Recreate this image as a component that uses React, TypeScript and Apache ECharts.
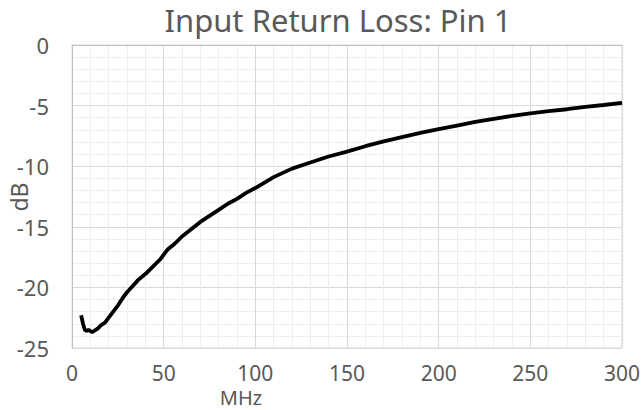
import React, { useEffect, useRef } from "react";
import * as echarts from "echarts";

const freqMHz = [5, 6, 7, 8, 9, 10, 11, 12, 14, 16, 18, 20, 22, 25, 28, 30, 33, 36, 40, 44, 48, 52, 56, 60, 65, 70, 75, 80, 85, 90, 95, 100, 110, 120, 130, 140, 150, 160, 170, 180, 190, 200, 210, 220, 230, 240, 250, 260, 270, 280, 290, 300];
const lossDb = [-22.3, -23.0, -23.5, -23.6, -23.5, -23.6, -23.7, -23.6, -23.4, -23.1, -22.9, -22.5, -22.1, -21.5, -20.8, -20.4, -19.9, -19.4, -18.9, -18.3, -17.7, -16.9, -16.4, -15.8, -15.2, -14.6, -14.1, -13.6, -13.1, -12.7, -12.2, -11.8, -10.9, -10.2, -9.7, -9.2, -8.8, -8.35, -7.95, -7.6, -7.25, -6.95, -6.65, -6.35, -6.1, -5.85, -5.65, -5.45, -5.3, -5.1, -4.95, -4.78];

const titleText = "Input Return Loss: Pin 1";
const xName = "MHz";
const yName = "dB";

const FONT = "'Noto Sans', sans-serif";
const TXT = "#595959";

export default function App() {
  const ref = useRef<HTMLDivElement>(null);
  useEffect(() => {
    if (!ref.current) return;
    const chart = echarts.init(ref.current, null, { renderer: "svg" });
    chart.setOption({
      animation: false,
      backgroundColor: "#ffffff",
      textStyle: { fontFamily: FONT },
      title: {
        text: titleText,
        left: 338,
        textAlign: "center",
        top: 0,
        padding: 0,
        textStyle: { fontFamily: FONT, fontSize: 31, fontWeight: "normal", color: TXT, lineHeight: 40 },
      },
      grid: { left: 72, right: 20, top: 45, bottom: 62, show: true, borderColor: "#d9d9d9", borderWidth: 1 },
      xAxis: {
        type: "value",
        min: 0,
        max: 300,
        interval: 50,
        axisLine: { show: true, lineStyle: { color: "#bfbfbf", width: 1 } },
        axisTick: { show: false },
        axisLabel: { color: TXT, fontFamily: FONT, fontSize: 21, margin: 14, lineHeight: 22 },
        splitLine: { show: true, lineStyle: { color: "#d9d9d9", width: 1 } },
        minorTick: { show: false, splitNumber: 5 },
        minorSplitLine: { show: true, lineStyle: { color: "#eeeeee", width: 1 } },
      },
      yAxis: {
        type: "value",
        min: -25,
        max: 0,
        interval: 5,
        axisLine: { show: true, lineStyle: { color: "#bfbfbf", width: 1 } },
        axisTick: { show: false },
        axisLabel: { color: TXT, fontFamily: FONT, fontSize: 22, margin: 23 },
        splitLine: { show: true, lineStyle: { color: "#d9d9d9", width: 1 } },
        minorTick: { show: false, splitNumber: 5 },
        minorSplitLine: { show: true, lineStyle: { color: "#eeeeee", width: 1 } },
      },
      graphic: [
        {
          type: "text",
          x: 241,
          y: 397,
          style: { text: xName, fill: TXT, font: `20px ${FONT}`, textAlign: "center", textVerticalAlign: "middle" },
        },
        {
          type: "text",
          x: 19,
          y: 197,
          rotation: Math.PI / 2,
          style: { text: yName, fill: TXT, font: `23px ${FONT}`, textAlign: "center", textVerticalAlign: "middle" },
        },
      ],
      series: [
        {
          type: "line",
          data: freqMHz.map((f, i) => [f, lossDb[i]]),
          showSymbol: false,
          symbol: "none",
          lineStyle: { color: "#000000", width: 3.8 },
          smooth: false,
        },
      ],
    });
    return () => chart.dispose();
  }, []);
  return <div ref={ref} style={{ width: 643, height: 410, position: "absolute", left: 0, top: 0 }} />;
}
